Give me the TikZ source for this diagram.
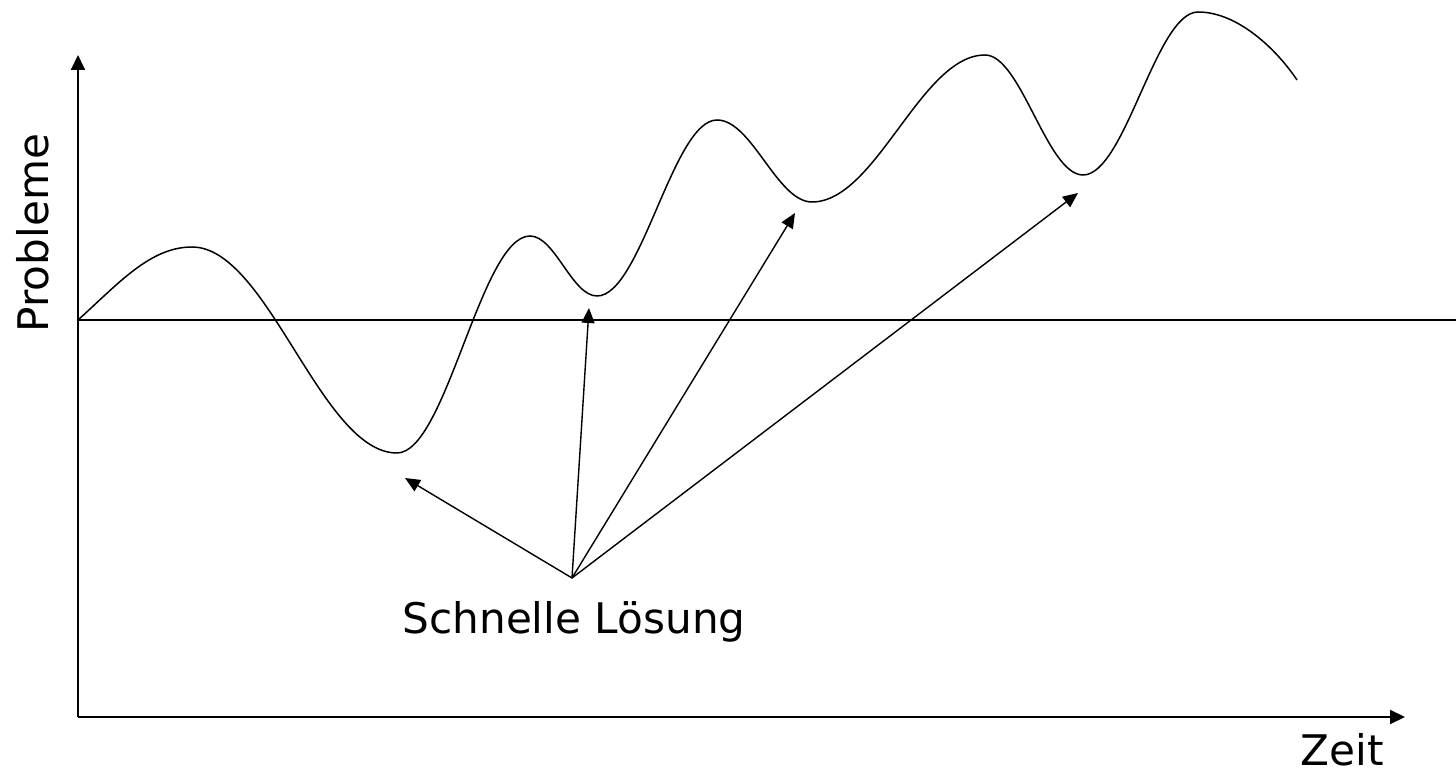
\documentclass[tikz,border=0pt]{standalone}
\usepackage{fontspec}
\setmainfont{DejaVu Sans}
\usepackage{tikz}
\usetikzlibrary{arrows.meta,positioning}

\tikzset{
  axisline/.style={line width=1.1pt, -{Triangle[length=0.3cm, width=0.28cm]}},
  fixarrow/.style={line width=0.8pt, -{Triangle[length=0.3cm, width=0.26cm]}},
  wave/.style={line width=0.85pt},
  lbl/.style={font=\fontsize{24}{28}\selectfont, inner sep=0pt}
}

\begin{document}
\begin{tikzpicture}[x=0.02cm, y=0.02cm]
  \useasboundingbox (0,0) rectangle (1456,777);

  % === Axes ===
  \coordinate (origin) at (78,60);
  \coordinate (ytop) at (78,722);
  \coordinate (xend) at (1405,60);
  \draw[axisline] (origin) -- (ytop);
  \draw[axisline] (origin) -- (xend);
  \node[lbl, rotate=90] (probleme) at (33,544) {Probleme};
  \node[lbl] (zeit) at (1342,27) {Zeit};

  % Baseline
  \coordinate (base0) at (78,457);
  \coordinate (base1) at (1456,457);
  \draw[line width=1.1pt] (base0) -- (base1);

  % === Problem curve ===
  \draw[wave] (78,457)
    .. controls +(40,36) and +(-42,0) .. (192,530)
    .. controls +(76,0) and +(-76,0) .. (397,324)
    .. controls +(49,0) and +(-49,0) .. (530,541)
    .. controls +(25,0) and +(-25,0) .. (597,481)
    .. controls +(44,0) and +(-44,0) .. (717,657)
    .. controls +(35,0) and +(-35,0) .. (812,575)
    .. controls +(64,0) and +(-64,0) .. (985,722)
    .. controls +(36,0) and +(-36,0) .. (1083,602)
    .. controls +(42,0) and +(-42,0) .. (1198,765)
    .. controls +(40,0) and +(-20,30) .. (1297,697);

  % === Quick fixes ===
  \node[lbl] (fix) at (574,155) {Schnelle Lösung};
  \coordinate (src) at (572,199);
  \coordinate (t1) at (405,299);
  \coordinate (t2) at (589,469);
  \coordinate (t3) at (795,564);
  \coordinate (t4) at (1078,584);
  \foreach \t in {t1,t2,t3,t4}
    \draw[fixarrow] (src) -- (\t);

\end{tikzpicture}
\end{document}
